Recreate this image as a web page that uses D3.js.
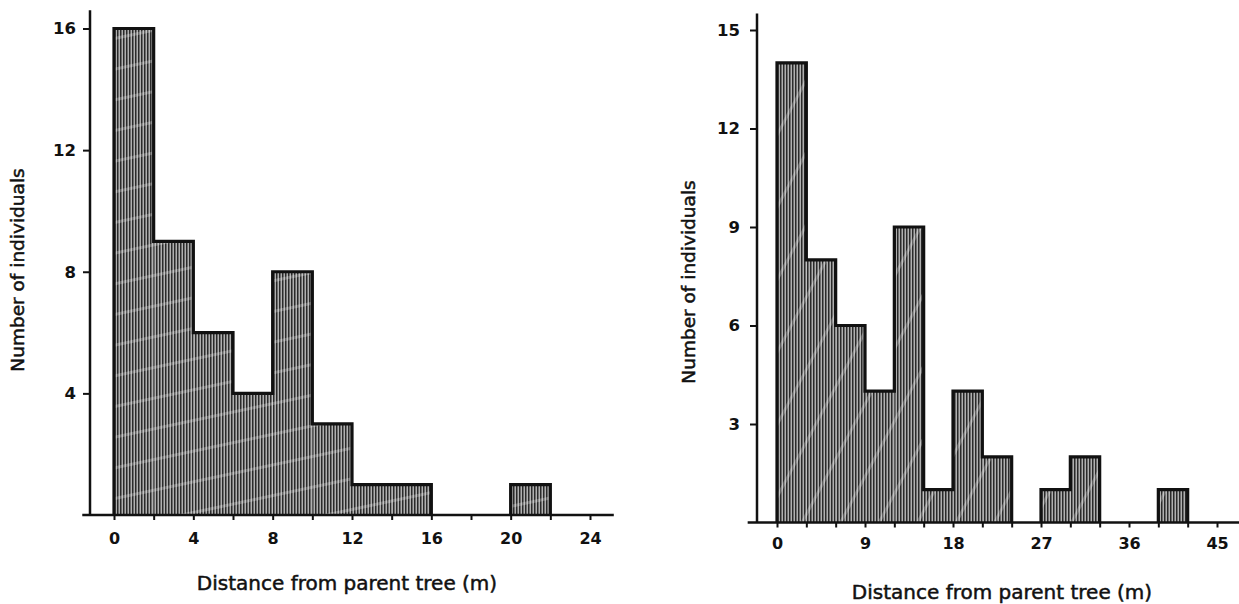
<!DOCTYPE html>
<html>
<head>
<meta charset="utf-8">
<script src="https://cdn.jsdelivr.net/npm/d3@7"></script>
<style>
  html, body { margin: 0; padding: 0; background: #fff; }
  svg { display: block; }
  text { font-family: "DejaVu Sans", sans-serif; fill: #111; }
</style>
</head>
<body>
<svg id="chart" width="1239" height="604"></svg>
<script>
// Seedling counts by distance from the parent tree, two sites.
const leftBinStarts = [0, 2, 4, 6, 8, 10, 12, 14, 16, 18, 20];
const leftCounts    = [16, 9, 6, 4, 8, 3, 1, 1, 0, 0, 1];
const leftBinWidth  = 2;
const leftXTicks    = [0, 2, 4, 6, 8, 10, 12, 14, 16, 18, 20, 22, 24];
const leftXLabels   = [0, 4, 8, 12, 16, 20, 24];
const leftYTicks    = [4, 8, 12, 16];

const rightBinStarts = [0, 3, 6, 9, 12, 15, 18, 21, 24, 27, 30, 33, 36, 39];
const rightCounts    = [14, 8, 6, 4, 9, 1, 4, 2, 0, 1, 2, 0, 0, 1];
const rightBinWidth  = 3;
const rightXTicks    = [0, 3, 6, 9, 12, 15, 18, 21, 24, 27, 30, 33, 36, 39, 42, 45];
const rightXLabels   = [0, 9, 18, 27, 36, 45];
const rightYTicks    = [3, 6, 9, 12, 15];

const xTitle = "Distance from parent tree (m)";
const yTitle = "Number of individuals";

const svg = d3.select("#chart");
const defs = svg.append("defs");

// Dense vertical hatching on a grey ground, plus faint diagonal streaks.
function makeHatch(id, streakAngle, streakGap) {
  const p = defs.append("pattern")
    .attr("id", id).attr("patternUnits", "userSpaceOnUse")
    .attr("width", 3).attr("height", 10);
  p.append("rect").attr("width", 3).attr("height", 10).attr("fill", "#b0b0b0");
  p.append("rect").attr("x", 0).attr("width", 1.5).attr("height", 10).attr("fill", "#2a2a2a");

  const s = defs.append("pattern")
    .attr("id", id + "-streak").attr("patternUnits", "userSpaceOnUse")
    .attr("width", streakGap).attr("height", streakGap)
    .attr("patternTransform", `rotate(${streakAngle})`);
  s.append("rect").attr("width", streakGap).attr("height", 3).attr("fill", "#ffffff").attr("opacity", 0.25);
}
makeHatch("hatchL", -12, 30);
makeHatch("hatchR", -62, 34);

function histogram(cfg) {
  const g = svg.append("g");
  const x = d3.scaleLinear().domain(cfg.xDomain).range(cfg.xRange);
  const y = d3.scaleLinear().domain([0, cfg.yMax]).range([cfg.base, cfg.yTopPx]);

  const bins = cfg.starts.map((s, i) => ({ x0: s, x1: s + cfg.width, v: cfg.counts[i] }))
    .filter(b => b.v > 0);

  // filled bars
  g.selectAll("rect.fill").data(bins).join("rect")
    .attr("class", "fill")
    .attr("x", d => x(d.x0)).attr("y", d => y(d.v))
    .attr("width", d => x(d.x1) - x(d.x0))
    .attr("height", d => y(0) - y(d.v))
    .attr("fill", `url(#${cfg.hatch})`);
  g.selectAll("rect.streak").data(bins).join("rect")
    .attr("class", "streak")
    .attr("x", d => x(d.x0)).attr("y", d => y(d.v))
    .attr("width", d => x(d.x1) - x(d.x0))
    .attr("height", d => y(0) - y(d.v))
    .attr("fill", `url(#${cfg.hatch}-streak)`);

  // step outline around each run of non-empty bins
  const runs = [];
  let cur = null;
  bins.forEach(b => {
    if (cur && Math.abs(cur[cur.length - 1].x1 - b.x0) < 1e-9) cur.push(b);
    else { cur = [b]; runs.push(cur); }
  });
  const line = d3.line().x(d => x(d[0])).y(d => y(d[1]));
  runs.forEach(run => {
    const pts = [[run[0].x0, 0]];
    run.forEach(b => { pts.push([b.x0, b.v]); pts.push([b.x1, b.v]); });
    pts.push([run[run.length - 1].x1, 0]);
    g.append("path").attr("d", line(pts))
      .attr("fill", "none").attr("stroke", "#111")
      .attr("stroke-width", 3.2).attr("stroke-linejoin", "miter");
  });

  // x axis: minor ticks every bin, labels on selected values
  const xAxis = d3.axisBottom(x)
    .tickValues(cfg.xTicks)
    .tickSize(5).tickSizeOuter(0)
    .tickFormat(d => cfg.xLabels.includes(d) ? d : "");
  const gx = g.append("g").attr("transform", `translate(0,${cfg.base})`).call(xAxis);
  gx.select(".domain").remove();
  gx.selectAll(".tick line").attr("stroke", "#111").attr("stroke-width", 2);
  gx.selectAll(".tick text").attr("dy", 0).attr("y", cfg.xLabelOffset)
    .style("font-size", "16px").style("font-weight", "bold");
  g.append("line")
    .attr("x1", x(cfg.baseExtent[0])).attr("x2", x(cfg.baseExtent[1]))
    .attr("y1", cfg.base).attr("y2", cfg.base)
    .attr("stroke", "#111").attr("stroke-width", 2.5);

  // y axis
  const yAxis = d3.axisLeft(y).tickValues(cfg.yTicks).tickSize(7).tickSizeOuter(0).tickPadding(cfg.yPad);
  const gy = g.append("g").attr("transform", `translate(${cfg.yAxisX},0)`).call(yAxis);
  gy.select(".domain").remove();
  gy.selectAll(".tick line").attr("stroke", "#111").attr("stroke-width", 2);
  gy.selectAll(".tick text").style("font-size", "16.5px").style("font-weight", "bold");
  g.append("line")
    .attr("x1", cfg.yAxisX).attr("x2", cfg.yAxisX)
    .attr("y1", y(cfg.axisTop)).attr("y2", cfg.base)
    .attr("stroke", "#111").attr("stroke-width", 2.5);

  // titles, slightly heavier than regular weight
  g.append("text")
    .attr("x", cfg.xTitlePos[0]).attr("y", cfg.xTitlePos[1])
    .attr("text-anchor", "middle")
    .style("font-size", "20px")
    .attr("stroke", "#111").attr("stroke-width", 0.5)
    .text(xTitle);
  g.append("text")
    .attr("transform", `translate(${cfg.yTitlePos[0]},${cfg.yTitlePos[1]}) rotate(-90)`)
    .attr("text-anchor", "middle").attr("dominant-baseline", "central")
    .style("font-size", "18.5px")
    .attr("stroke", "#111").attr("stroke-width", 0.5)
    .text(yTitle);
}

histogram({
  starts: leftBinStarts, counts: leftCounts, width: leftBinWidth,
  xDomain: [0, 24], xRange: [114, 590],
  yMax: 16, base: 515, yTopPx: 28.5, axisTop: 16.6,
  xTicks: leftXTicks, xLabels: leftXLabels, yTicks: leftYTicks,
  baseExtent: [-1.6, 25.2], yAxisX: 90, yPad: 7, xLabelOffset: 29,
  hatch: "hatchL",
  xTitlePos: [347, 590], yTitlePos: [17, 270]
});

histogram({
  starts: rightBinStarts, counts: rightCounts, width: rightBinWidth,
  xDomain: [0, 45], xRange: [777, 1217],
  yMax: 15, base: 522.5, yTopPx: 30, axisTop: 15.5,
  xTicks: rightXTicks, xLabels: rightXLabels, yTicks: rightYTicks,
  baseExtent: [-3, 47.5], yAxisX: 757, yPad: 10, xLabelOffset: 26,
  hatch: "hatchR",
  xTitlePos: [1002, 599], yTitlePos: [688, 282]
});
</script>
</body>
</html>
